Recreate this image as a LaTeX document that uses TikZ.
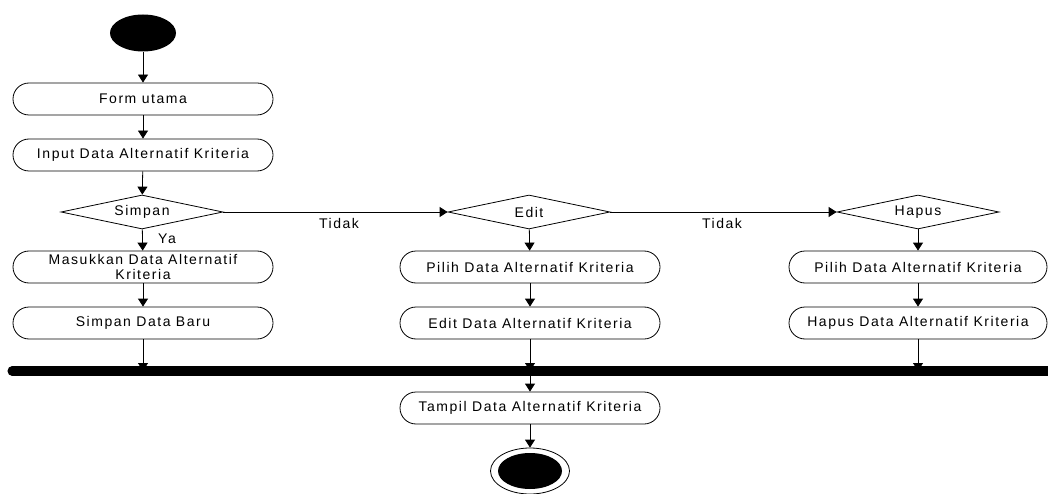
\documentclass[tikz,border=0pt]{standalone}
\usepackage{fontspec}
\setmainfont{Liberation Sans}[LetterSpace=11]
\usetikzlibrary{shapes.geometric,arrows.meta}
\begin{document}
\begin{tikzpicture}[x=1pt,y=-1pt,
  font=\fontsize{14}{16}\selectfont,
  line width=0.8pt,
  act/.style={draw, rectangle, rounded corners=16pt, minimum width=260pt, minimum height=32pt, inner sep=0pt, align=center},
  choice/.style={draw, diamond, aspect=4.7, minimum width=162pt, minimum height=34pt, inner sep=0pt},
  arr/.style={-{Triangle[width=10pt,length=8pt]}},
  lbl/.style={inner sep=0pt}
]
\useasboundingbox (0,0) rectangle (1048,494);

% start state
\node[fill=black, ellipse, minimum width=66pt, minimum height=37pt, inner sep=0pt] (start) at (143,33) {};

% main column
\node[act] (form)   at (143,99)  {Form utama};
\node[act] (input)  at (143,155) {Input Data Alternatif Kriteria};
\node[choice] (simpan) at (142,212) {Simpan};
\node[act, font=\fontsize{14}{15}\selectfont] (masuk)  at (143,267) {Masukkan Data Alternatif\\Kriteria};
\node[act] (baru)   at (143,323) {Simpan Data Baru};

% edit column
\node[choice] (edit)  at (529,212) {Edit};
\node[act] (pilihE)   at (530,267) {Pilih Data Alternatif Kriteria};
\node[act] (editD)    at (530,323) {Edit Data Alternatif Kriteria};

% delete column
\node[choice] (hapus) at (918,212) {Hapus};
\node[act, minimum width=258pt] (pilihH) at (918,267) {Pilih Data Alternatif Kriteria};
\node[act, minimum width=258pt] (hapusD) at (918,323) {Hapus Data Alternatif Kriteria};

% result and end state
\node[act] (tampil) at (530,408) {Tampil Data Alternatif Kriteria};
\node[draw, ellipse, minimum width=79pt, minimum height=46pt, inner sep=0pt] (endo) at (530,471) {};
\node[fill=black, ellipse, minimum width=64pt, minimum height=36pt, inner sep=0pt] (endi) at (530,471) {};

% flow
\draw[arr] (start) -- (form);
\draw[arr] (form) -- (input);
\draw[arr] (input) -- (simpan);
\draw[arr] (simpan) -- (masuk);
\draw[arr] (masuk) -- (baru);
\draw[arr] (simpan.east) -- (edit.west);
\draw[arr] (edit.east) -- (hapus.west);
\draw[arr] (edit) -- (pilihE);
\draw[arr] (pilihE) -- (editD);
\draw[arr] (hapus) -- (pilihH);
\draw[arr] (pilihH) -- (hapusD);

% join bar
\node[fill=black, rectangle, rounded corners=4.5pt, minimum width=1046pt, minimum height=9pt, inner sep=0pt] (join) at (531,371) {};
\draw[arr] (baru) -- (baru |- join.center);
\draw[arr] (editD) -- (editD |- join.center);
\draw[arr] (hapusD) -- (hapusD |- join.center);
\fill[black, rounded corners=4.5pt] (join.south west) rectangle (join.north east);
\draw[arr] (join.south -| tampil) -- (tampil);
\draw[arr] (tampil) -- (endo);

% guard labels
\node[lbl] (ya)     at (167,239) {Ya};
\node[lbl] (tidak1) at (339,223) {Tidak};
\node[lbl] (tidak2) at (722,223) {Tidak};
\end{tikzpicture}
\end{document}
